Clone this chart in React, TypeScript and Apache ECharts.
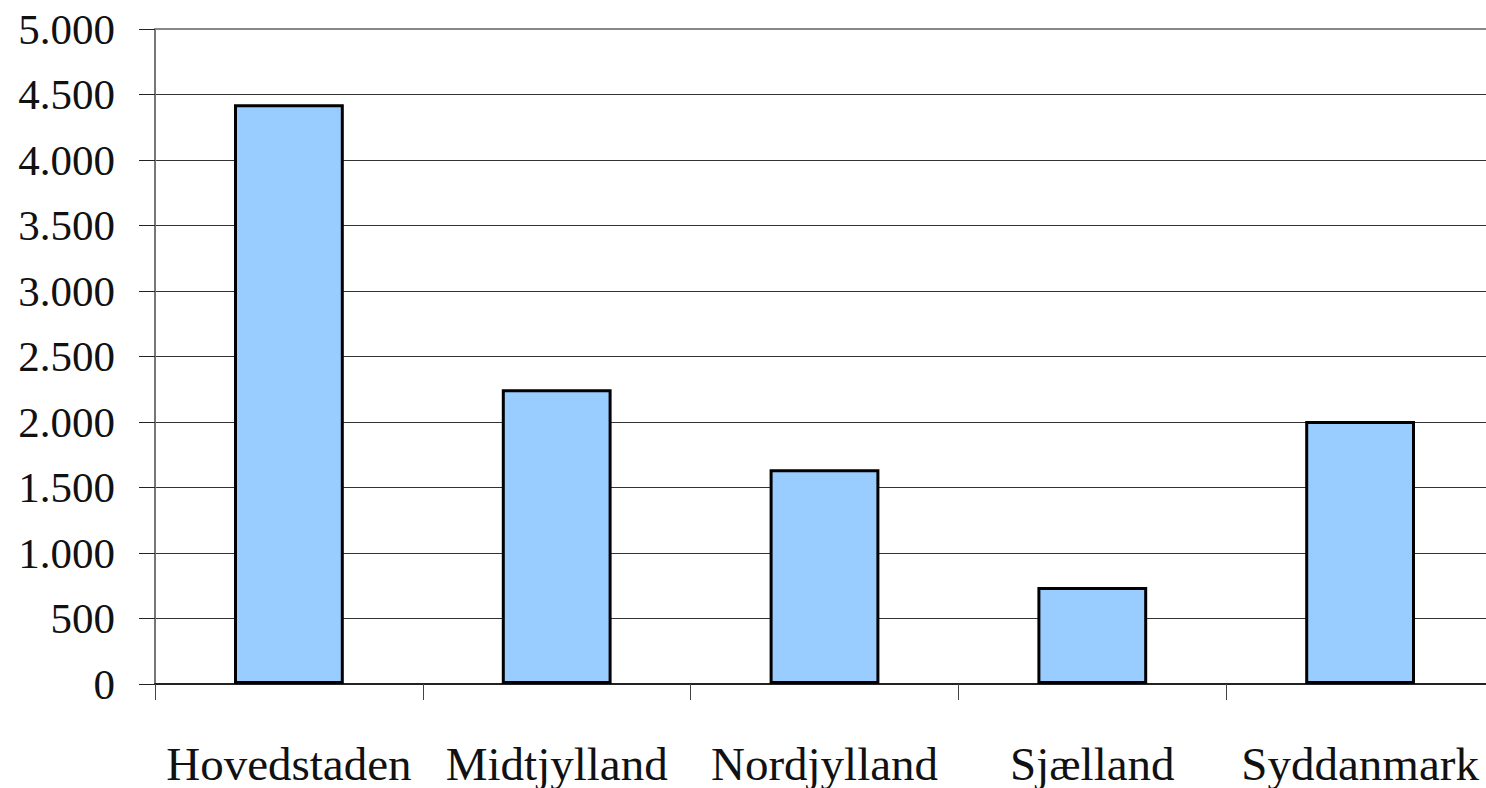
import React, { useEffect, useRef } from "react";
import * as echarts from "echarts";

const categories = ["Hovedstaden", "Midtjylland", "Nordjylland", "Sjælland", "Syddanmark"];
const values = [4425, 2250, 1640, 740, 2008];

function fmt(v: number): string {
  const s = String(v);
  return s.length > 3 ? s.slice(0, s.length - 3) + "." + s.slice(s.length - 3) : s;
}

export default function App() {
  const ref = useRef<HTMLDivElement>(null);
  useEffect(() => {
    if (!ref.current) return;
    const chart = echarts.init(ref.current, null, { renderer: "svg" });
    chart.setOption({
      animation: false,
      backgroundColor: "#ffffff",
      grid: { left: 155, top: 29, width: 1339, bottom: 104, containLabel: false, outerBoundsMode: "none" },
      xAxis: [
        {
          type: "category",
          data: categories,
          boundaryGap: true,
          axisLine: { show: true, lineStyle: { color: "#222", width: 2 } },
          axisTick: { show: true, alignWithLabel: false, length: 16, inside: false, lineStyle: { color: "#444", width: 1 } },
          axisLabel: {
            margin: 56,
            color: "#111",
            fontFamily: "Liberation Serif",
            fontSize: 47,
            interval: 0,
          },
          splitLine: { show: false },
        },
        {
          type: "category",
          data: categories,
          position: "top",
          axisLine: { show: true, lineStyle: { color: "#888", width: 2 } },
          axisTick: { show: false },
          axisLabel: { show: false },
        },
      ],
      yAxis: {
        type: "value",
        min: 0,
        max: 5000,
        interval: 500,
        axisLine: { show: true, lineStyle: { color: "#777", width: 2 } },
        axisTick: { show: true, length: 16, lineStyle: { color: "#222", width: 1 } },
        axisLabel: {
          margin: 40,
          color: "#111",
          fontFamily: "Liberation Serif",
          fontSize: 43,
          formatter: (v: number) => fmt(v),
        },
        splitLine: { show: true, lineStyle: { color: "#333", width: 1 } },
      },
      series: [
        {
          type: "bar",
          xAxisIndex: 0,
          data: values,
          barWidth: "41%",
          itemStyle: { color: "#99CCFF", borderColor: "#000", borderWidth: 3 },
        },
      ],
    });
    return () => chart.dispose();
  }, []);
  return (
    <div
      ref={ref}
      style={{ position: "fixed", left: 0, top: 0, width: 1486, height: 788, background: "#fff" }}
    />
  );
}
